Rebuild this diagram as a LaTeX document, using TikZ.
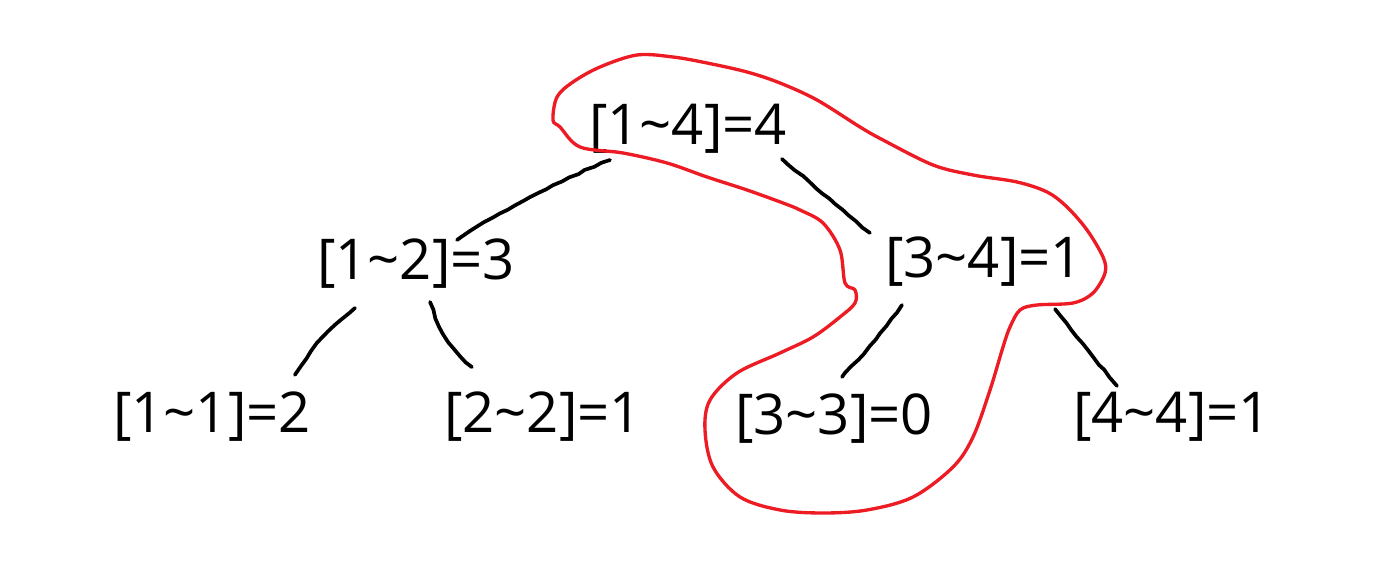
\documentclass[tikz,border=0pt]{standalone}
\usepackage{fontspec}
\setmainfont{Open Sans}
\usepackage{tikz}
\usetikzlibrary{decorations.pathmorphing}

\definecolor{penred}{RGB}{237,28,36}

\begin{document}
\begin{tikzpicture}[
  lbl/.style = {inner sep=0pt, anchor=base,
      font=\fontsize{16}{19}\selectfont},
  link/.style = {draw, black, line width=1.05pt, line cap=round,
      decorate, decoration={random steps, segment length=2.5pt, amplitude=0.25pt}},
  loop/.style = {draw=penred, line width=0.95pt, line join=round}
  ]
  \useasboundingbox (0,0) rectangle (13.97,-5.75);
  % segment tree labels
  \node[lbl] (n14) at (6.88,-1.45) {[1\textasciitilde4]=4};
  \node[lbl] (n12) at (4.16,-2.80) {[1\textasciitilde2]=3};
  \node[lbl] (n34) at (9.84,-2.78) {[3\textasciitilde4]=1};
  \node[lbl] (n11) at (2.12,-4.33) {[1\textasciitilde1]=2};
  \node[lbl] (n22) at (5.43,-4.33) {[2\textasciitilde2]=1};
  \node[lbl] (n33) at (8.34,-4.35) {[3\textasciitilde3]=0};
  \node[lbl] (n44) at (11.72,-4.33) {[4\textasciitilde4]=1};
  %
  \path[link] ([shift={(-0.78,-0.15)}]n14.base) to[bend right=5] ([shift={(0.41,0.40)}]n12.base);
  \path[link] ([shift={(0.94,-0.14)}]n14.base) -- ([shift={(-1.14,0.45)}]n34.base);
  \path[link] ([shift={(-0.61,-0.28)}]n12.base) to[bend right=10] ([shift={(0.83,0.58)}]n11.base);
  \path[link] ([shift={(0.14,-0.22)}]n12.base) to[bend right=15] ([shift={(-0.71,0.66)}]n22.base);
  \path[link] ([shift={(-0.82,-0.27)}]n34.base) to[bend left=4] ([shift={(0.08,0.58)}]n33.base);
  \path[link] ([shift={(0.71,-0.31)}]n34.base) -- ([shift={(-0.55,0.47)}]n44.base);
  % red loop round the chosen intervals
  \draw[loop] plot[smooth cycle, tension=0.55] coordinates {
    (5.53,-1.20) (5.57,-0.97) (5.73,-0.82) (6.00,-0.67) (6.37,-0.55)
    (6.73,-0.57) (7.07,-0.63) (7.47,-0.72) (7.80,-0.83) (8.17,-1.00)
    (8.60,-1.27) (8.83,-1.40) (9.33,-1.65) (9.73,-1.75) (10.17,-1.82)
    (10.47,-1.92) (10.67,-2.07) (10.87,-2.30) (11.03,-2.57) (11.05,-2.73)
    (10.93,-2.93) (10.73,-3.03) (10.37,-3.05) (10.20,-3.10) (10.10,-3.27)
    (10.03,-3.47) (9.90,-3.90) (9.73,-4.37) (9.53,-4.67) (9.13,-4.97)
    (8.67,-5.10) (8.23,-5.13) (7.80,-5.10) (7.40,-4.97) (7.13,-4.67)
    (7.05,-4.30) (7.10,-4.00) (7.37,-3.73) (7.80,-3.53) (8.13,-3.37)
    (8.40,-3.17) (8.55,-3.03) (8.55,-2.90) (8.45,-2.83) (8.40,-2.50)
    (8.23,-2.23) (8.00,-2.10) (7.83,-2.03) (7.47,-1.90) (7.07,-1.77)
    (6.67,-1.63) (6.23,-1.53) (5.80,-1.47) (5.60,-1.27)};
\end{tikzpicture}
\end{document}
